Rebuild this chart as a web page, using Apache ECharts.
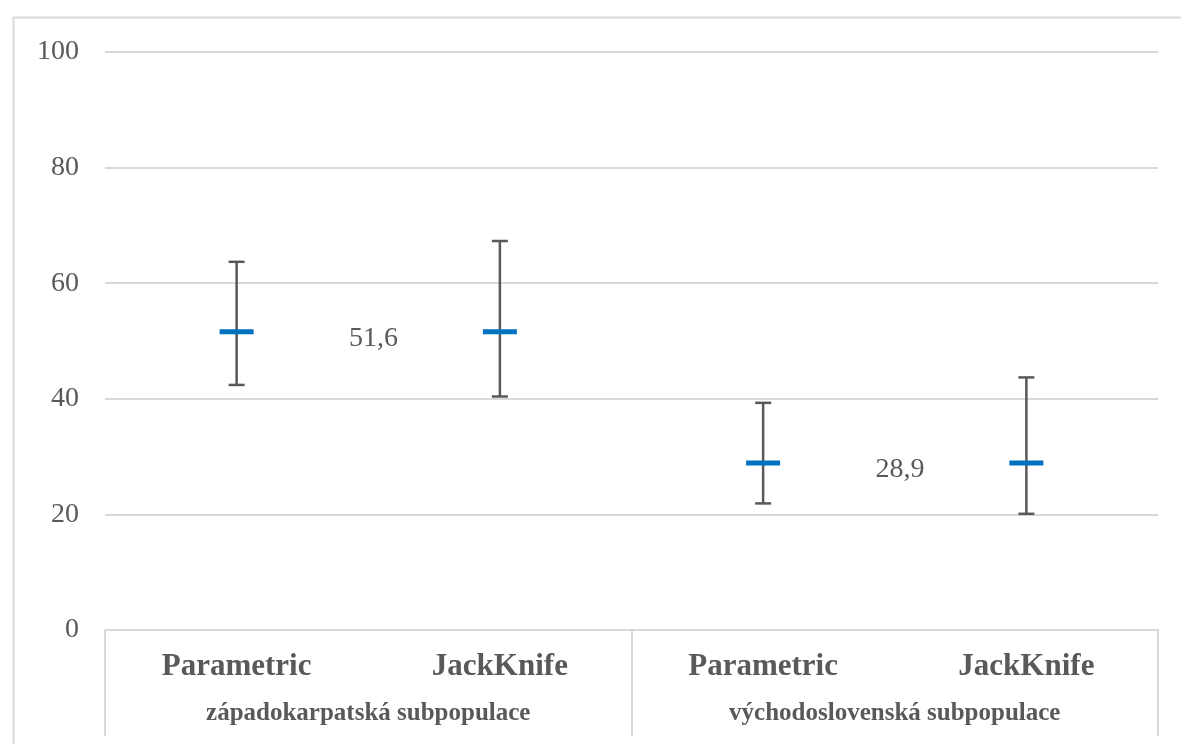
<!DOCTYPE html>
<html>
<head>
<meta charset="utf-8">
<script src="https://cdn.jsdelivr.net/npm/echarts@6/dist/echarts.min.js"></script>
<style>html,body{margin:0;padding:0;background:#fff;}#c{width:1181px;height:744px;}</style>
</head>
<body>
<div id="c"></div>
<script>
const categories = ['Parametric', 'JackKnife', 'Parametric', 'JackKnife'];
const groups = ['západokarpatská subpopulace', 'východoslovenská subpopulace'];
const means = [51.6, 51.6, 28.9, 28.9];
const lower = [42.4, 40.4, 21.9, 20.1];
const upper = [63.7, 67.3, 39.3, 43.7];
const meanLabels = ['51,6', '', '28,9', ''];
const yTicks = [0, 20, 40, 60, 80, 100];

const serif = '"Liberation Serif", "Times New Roman", serif';
const txt = '#595959';

const data = categories.map((c, i) => [i, means[i], lower[i], upper[i]]);

const chart = echarts.init(document.getElementById('c'));
chart.setOption({
  animation: false,
  backgroundColor: '#fff',
  graphic: [{
    type: 'rect', left: 11, top: 15, z: -10,
    shape: { width: 1300, height: 900 },
    style: { fill: 'none', stroke: '#d9d9d9', lineWidth: 2 }
  }],
  grid: { left: 105, right: 23, top: 52, bottom: 114, containLabel: false },
  xAxis: [{
    type: 'category', data: categories, position: 'bottom',
    axisLine: { show: true, lineStyle: { color: '#d9d9d9', width: 2 } },
    axisTick: { show: false },
    axisLabel: { margin: 21, color: txt, fontFamily: serif, fontWeight: 'bold', fontSize: 31 }
  }, {
    type: 'category', data: groups, position: 'bottom',
    axisLine: { show: false },
    axisTick: { show: true, interval: 0, length: 106, lineStyle: { color: '#d9d9d9', width: 2 } },
    axisLabel: { margin: 71, color: txt, fontFamily: serif, fontWeight: 'bold', fontSize: 25, interval: 0 }
  }],
  yAxis: {
    type: 'value', min: 0, max: 100, interval: 20,
    axisLine: { show: false }, axisTick: { show: false },
    splitLine: { lineStyle: { color: '#d9d9d9', width: 2 } },
    axisLabel: { margin: 26, color: txt, fontFamily: serif, fontSize: 28,
      formatter: v => yTicks.includes(v) ? String(v) : '' }
  },
  series: [{
    type: 'custom', xAxisIndex: 0,
    data: data,
    renderItem: function (params, api) {
      const i = api.value(0);
      const m = api.coord([i, api.value(1)]);
      const lo = api.coord([i, api.value(2)]);
      const hi = api.coord([i, api.value(3)]);
      const band = api.size([1, 0])[0];
      const x = m[0];
      const capW = 8, meanW = 17;
      const es = { stroke: '#595959', lineWidth: 2.5 };
      const children = [
        { type: 'line', shape: { x1: x, y1: lo[1], x2: x, y2: hi[1] }, style: es },
        { type: 'line', shape: { x1: x - capW, y1: lo[1], x2: x + capW, y2: lo[1] }, style: es },
        { type: 'line', shape: { x1: x - capW, y1: hi[1], x2: x + capW, y2: hi[1] }, style: es },
        { type: 'line', shape: { x1: x - meanW, y1: m[1], x2: x + meanW, y2: m[1] },
          style: { stroke: '#0070C0', lineWidth: 5 } }
      ];
      const lab = meanLabels[params.dataIndex];
      if (lab) {
        children.push({ type: 'text', x: x + band * 0.52, y: m[1] + 7,
          style: { text: lab, fill: txt, font: '28px ' + serif, align: 'center', verticalAlign: 'middle' } });
      }
      return { type: 'group', children: children };
    }
  }]
});
</script>
</body>
</html>
